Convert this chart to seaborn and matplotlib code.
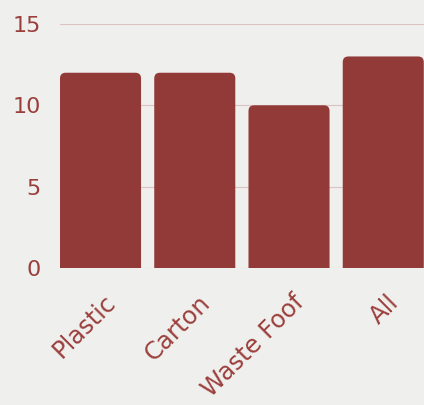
import matplotlib
matplotlib.use("Agg")
import matplotlib.pyplot as plt
import matplotlib.transforms as mtransforms
from matplotlib.patches import FancyBboxPatch
import seaborn as sns
import pandas as pd

# --- data --- #
categories = ["Plastic", "Carton", "Waste Foof", "All"]
values = [12, 12, 10, 13]
y_ticks = [0, 5, 10, 15]

bar_color = "#923a37"
text_color = "#9b3f3c"
grid_color = "#dcc3c1"
bg_color = "#efefed"

df = pd.DataFrame({"category": categories, "value": values})

sns.set_theme(style="white")
plt.rcParams["font.family"] = ["DejaVu Sans"]

fig = plt.figure(figsize=(4.24, 4.05), dpi=100, facecolor=bg_color)
ax = fig.add_axes([0.1415, 0.338, 0.858, 0.603])
ax.set_facecolor(bg_color)

sns.barplot(data=df, x="category", y="value", color=bar_color, width=0.86,
            saturation=1, ax=ax, zorder=3)

# swap plain bars for rounded-top ones
ax.set_xlim(-0.43, 3.43)
ax.set_ylim(0, 15)
for p in list(ax.patches):
    x0, w, h = p.get_x(), p.get_width(), p.get_height()
    p.remove()
    rb = FancyBboxPatch((x0, -1), w, h + 1,
                        boxstyle="round,pad=0,rounding_size=0.06",
                        mutation_aspect=5.8, facecolor=bar_color,
                        edgecolor="none", zorder=3, clip_on=True)
    ax.add_patch(rb)

ax.set_yticks(y_ticks)
ax.yaxis.grid(True, color=grid_color, linewidth=0.8, zorder=0)
ax.xaxis.grid(False)
for s in ax.spines.values():
    s.set_visible(False)

ax.set_xlabel("")
ax.set_ylabel("")
ax.tick_params(axis="y", colors=text_color, labelsize=16, length=0, pad=14)
ax.tick_params(axis="x", colors=text_color, labelsize=17.5, length=0, pad=16)
shift = mtransforms.ScaledTranslation(3 / 100, 0, fig.dpi_scale_trans)
for lbl in ax.get_xticklabels():
    lbl.set_rotation(45)
    lbl.set_ha("right")
    lbl.set_rotation_mode("anchor")
    lbl.set_transform(lbl.get_transform() + shift)

plt.savefig("out.png", dpi=100, facecolor=bg_color)
